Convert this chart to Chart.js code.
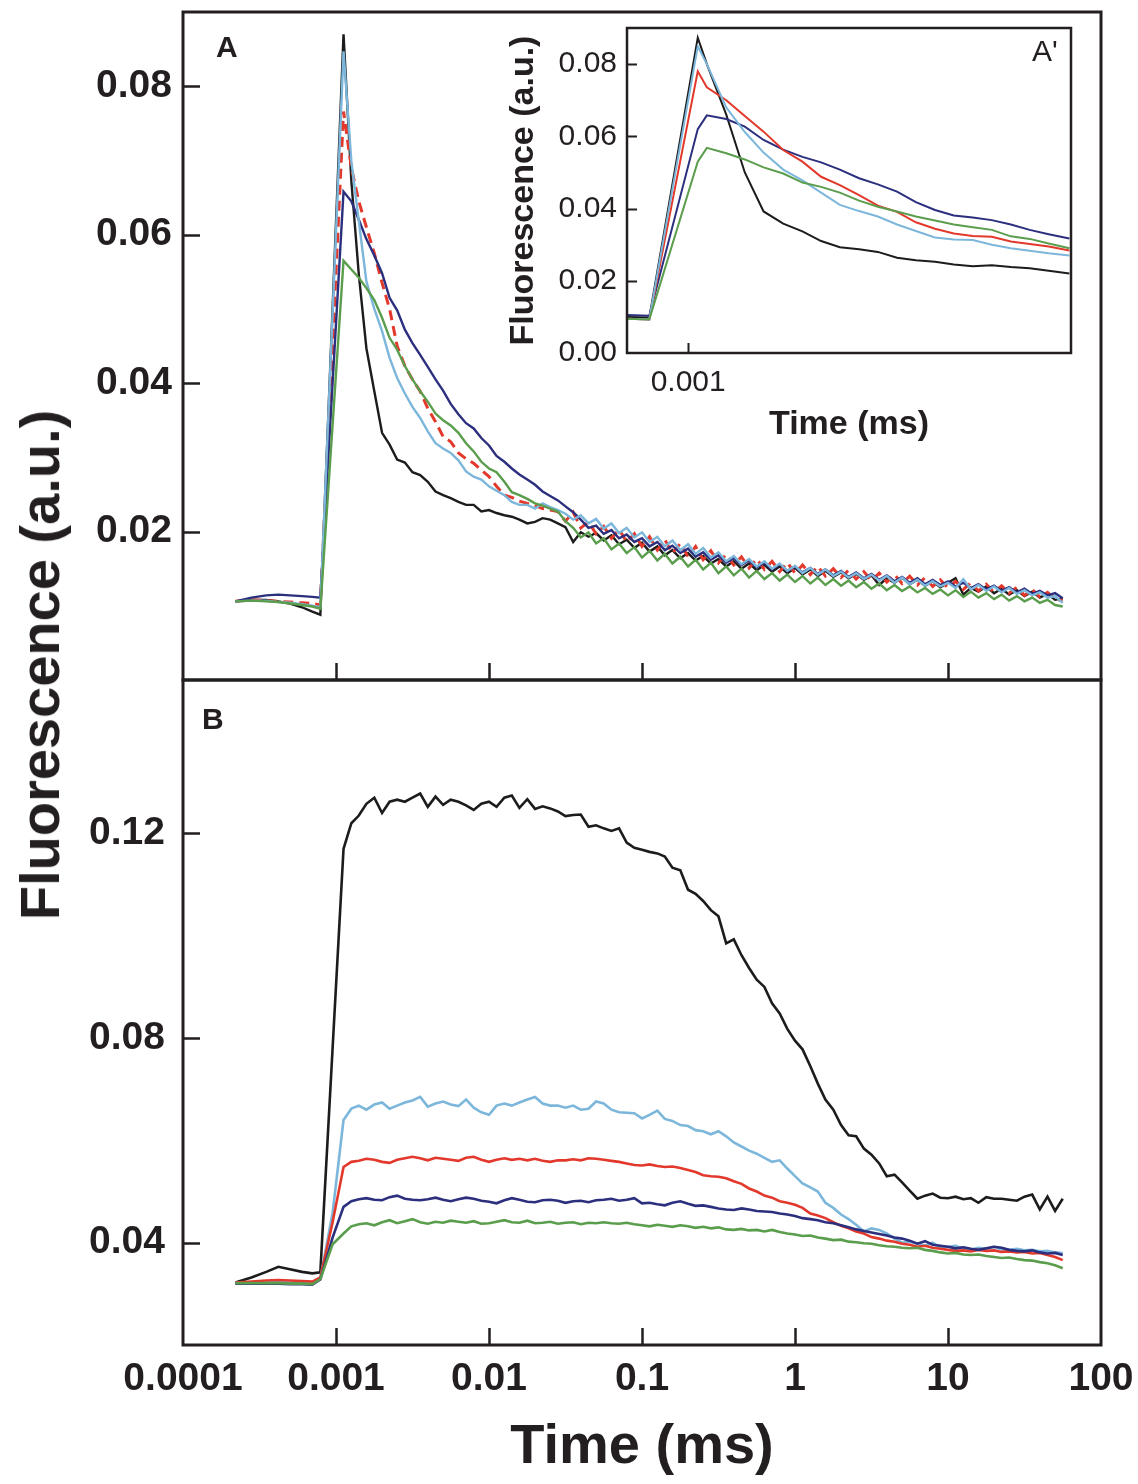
<!DOCTYPE html>
<html>
<head>
<meta charset="utf-8">
<script src="https://cdn.jsdelivr.net/npm/chart.js@4.4.1/dist/chart.umd.min.js"></script>
<style>
  html, body { margin:0; padding:0; background:#ffffff; }
  body { width:1138px; height:1484px; position:relative; overflow:hidden; }
  canvas { position:absolute; }
  .lbl { position:absolute; font-family:"Liberation Sans", Arial, sans-serif; color:#231f20; line-height:1; white-space:nowrap; }
  #ytitle { position:absolute; left:40px; top:665px; transform:translate(-50%,-50%) rotate(-90deg);
            font:bold 56px "Liberation Sans", Arial, sans-serif; color:#231f20; white-space:nowrap; line-height:1; }
</style>
</head>
<body>
<canvas id="cA" width="1138" height="700" style="left:0;top:0;width:1138px;height:700px"></canvas>
<canvas id="cB" width="1138" height="814" style="left:0;top:670px;width:1138px;height:814px"></canvas>
<canvas id="cI" width="600" height="440" style="left:500px;top:20px;width:600px;height:440px"></canvas>
<div class="lbl" style="left:216px;top:32px;font-size:30px;font-weight:bold">A</div>
<div class="lbl" style="left:202px;top:704px;font-size:30px;font-weight:bold">B</div>
<div class="lbl" style="left:1032px;top:36px;font-size:30px;">A'</div>
<div id="ytitle">Fluorescence (a.u.)</div>
<script>
// ---------------- DATA ----------------
// time points (ms) shared by panels A and B
const times = [
  0.00022, 0.00028, 0.00035, 0.00042, 0.0005, 0.0006, 0.0007, 0.00079,
  0.00095, 0.00112,
  0.00126, 0.00141, 0.00158, 0.00178, 0.002, 0.00224, 0.00251, 0.00282, 0.00316, 0.00355, 0.00398, 0.00447, 0.00501, 0.00562, 0.00631, 0.00708, 0.00794, 0.00891,
  0.01, 0.0112, 0.0126, 0.0141, 0.0158, 0.0178, 0.02, 0.0224, 0.0251, 0.0282, 0.0316, 0.0355, 0.0398, 0.0447, 0.0501, 0.0562, 0.0631, 0.0708, 0.0794, 0.0891,
  0.1, 0.112, 0.126, 0.141, 0.158, 0.178, 0.2, 0.224, 0.251, 0.282, 0.316, 0.355, 0.398, 0.447, 0.501, 0.562, 0.631, 0.708, 0.794, 0.891,
  1, 1.12, 1.26, 1.41, 1.58, 1.78, 2, 2.24, 2.51, 2.82, 3.16, 3.55, 3.98, 4.47, 5.01, 5.62, 6.31, 7.08, 7.94, 8.91,
  10, 11.2, 12.6, 14.1, 15.8, 17.8, 20, 22.4, 25.1, 28.2, 31.6, 35.5, 39.8, 44.7, 50.1, 56.2
];

// Panel A
const aBlack = [
  0.0106, 0.0108, 0.0108, 0.0106, 0.0103, 0.0098, 0.0092, 0.0088,
  null, 0.087,
  0.0672, 0.0546, 0.0447, 0.0389, 0.0333, 0.0317, 0.0297, 0.0293, 0.0280, 0.0276, 0.0267, 0.0254, 0.0249, 0.0245, 0.0240, 0.0236, 0.0236, 0.0227,
  0.0229, 0.0225, 0.0222, 0.0220, 0.0216, 0.0211, 0.0213, 0.0218, 0.0216, 0.0211,
  0.0206, 0.0186, 0.0199, 0.0193, 0.0198, 0.0188, 0.0195, 0.0183, 0.0189, 0.0178,
  0.0185, 0.0173, 0.0180, 0.0168, 0.0175, 0.0164, 0.0171, 0.0161, 0.0167, 0.0157,
  0.0163, 0.0153, 0.0160, 0.0150, 0.0157, 0.0148, 0.0155, 0.0146, 0.0153, 0.0144,
  0.0151, 0.0142, 0.0149, 0.0140, 0.0147, 0.0139, 0.0145, 0.0137, 0.0143, 0.0135,
  0.0141, 0.0128, 0.0137, 0.0131, 0.0138, 0.0129, 0.0135, 0.0127, 0.0133, 0.0125,
  0.0131, 0.0137, 0.0115, 0.0124, 0.0119, 0.0126, 0.0117, 0.0123, 0.0115, 0.0121,
  0.0113, 0.0119, 0.0111, 0.0116, 0.0108, 0.0110
];
const aNavy = [
  0.0106, 0.0111, 0.0114, 0.0115, 0.0114, 0.0113, 0.0112, 0.0111,
  null, 0.0658,
  0.0645, 0.0620, 0.0594, 0.0572, 0.0548, 0.0515, 0.0498, 0.0472, 0.0454, 0.0438, 0.0422, 0.0405, 0.0390, 0.0372, 0.0358, 0.0346, 0.0339, 0.0326,
  0.0316, 0.0302, 0.0294, 0.0285, 0.0277, 0.0270, 0.0263, 0.0254, 0.0248, 0.0242,
  0.0234, 0.0226, 0.0216, 0.0205, 0.0208, 0.0197, 0.0202, 0.0191, 0.0196, 0.0186,
  0.0191, 0.0180, 0.0186, 0.0175, 0.0181, 0.0171, 0.0177, 0.0166, 0.0172, 0.0162,
  0.0168, 0.0158, 0.0164, 0.0155, 0.0161, 0.0152, 0.0158, 0.0149, 0.0156, 0.0147,
  0.0153, 0.0145, 0.0151, 0.0143, 0.0149, 0.0141, 0.0147, 0.0139, 0.0145, 0.0137,
  0.0143, 0.0135, 0.0141, 0.0133, 0.0139, 0.0131, 0.0137, 0.0129, 0.0135, 0.0128,
  0.0133, 0.0126, 0.0131, 0.0124, 0.0129, 0.0122, 0.0127, 0.0120, 0.0125, 0.0118,
  0.0123, 0.0116, 0.0120, 0.0114, 0.0117, 0.0110
];
const aRed = [
  0.0106, 0.0108, 0.0107, 0.0106, 0.0105, 0.0104, 0.0103, 0.0101,
  null, 0.0766,
  0.0690, 0.0645, 0.0610, 0.0575, 0.0535, 0.0500, 0.0450, 0.0423, 0.0405, 0.0389, 0.0366, 0.0348, 0.0328, 0.0321, 0.0306, 0.0298, 0.0292, 0.0283,
  0.0274, 0.0261, 0.0249, 0.0246, 0.0241, 0.0238, 0.0235, 0.0231, 0.0229, 0.0227,
  0.0214, 0.0226, 0.0205, 0.0213, 0.0197, 0.0207, 0.0191, 0.0203, 0.0186, 0.0197,
  0.0180, 0.0193, 0.0175, 0.0189, 0.0171, 0.0184, 0.0166, 0.0180, 0.0162, 0.0174,
  0.0158, 0.0169, 0.0155, 0.0166, 0.0151, 0.0163, 0.0149, 0.0160, 0.0146, 0.0158,
  0.0144, 0.0155, 0.0142, 0.0153, 0.0140, 0.0150, 0.0138, 0.0148, 0.0136, 0.0146,
  0.0134, 0.0144, 0.0132, 0.0142, 0.0130, 0.0140, 0.0128, 0.0138, 0.0126, 0.0135,
  0.0124, 0.0133, 0.0122, 0.0131, 0.0120, 0.0129, 0.0118, 0.0127, 0.0117, 0.0125,
  0.0114, 0.0122, 0.0112, 0.0118, 0.0109, 0.0107
];
const aLightBlue = [
  0.0106, 0.0107, 0.0107, 0.0105, 0.0104, 0.0102, 0.0100, 0.0098,
  null, 0.0847,
  0.0699, 0.0618, 0.0537, 0.0500, 0.0470, 0.0434, 0.0407, 0.0386, 0.0368, 0.0353, 0.0335, 0.0319, 0.0312, 0.0306, 0.0296, 0.0281, 0.0274, 0.0270,
  0.0261, 0.0255, 0.0249, 0.0240, 0.0236, 0.0236, 0.0231, 0.0238, 0.0233, 0.0229,
  0.0224, 0.0216, 0.0222, 0.0211, 0.0217, 0.0204, 0.0211, 0.0198, 0.0205, 0.0192,
  0.0199, 0.0186, 0.0193, 0.0180, 0.0188, 0.0175, 0.0183, 0.0170, 0.0178, 0.0165,
  0.0172, 0.0160, 0.0167, 0.0156, 0.0163, 0.0153, 0.0160, 0.0150, 0.0157, 0.0147,
  0.0154, 0.0144, 0.0151, 0.0142, 0.0149, 0.0140, 0.0146, 0.0138, 0.0144, 0.0136,
  0.0142, 0.0134, 0.0140, 0.0131, 0.0138, 0.0129, 0.0135, 0.0127, 0.0133, 0.0126,
  0.0131, 0.0124, 0.0136, 0.0122, 0.0128, 0.0120, 0.0126, 0.0118, 0.0124, 0.0116,
  0.0121, 0.0114, 0.0118, 0.0111, 0.0113, 0.0104
];
const aGreen = [
  0.0106, 0.0107, 0.0106, 0.0105, 0.0103, 0.0101, 0.0099, 0.0096,
  null, 0.0565,
  0.0553, 0.0542, 0.0528, 0.0512, 0.0488, 0.0461, 0.0445, 0.0423, 0.0405, 0.0389, 0.0375, 0.0359, 0.0350, 0.0343, 0.0333, 0.0319, 0.0308, 0.0294,
  0.0285, 0.0280, 0.0267, 0.0253, 0.0249, 0.0244, 0.0238, 0.0235, 0.0231, 0.0227,
  0.0214, 0.0205, 0.0192, 0.0199, 0.0184, 0.0191, 0.0176, 0.0184, 0.0171, 0.0179,
  0.0165, 0.0174, 0.0161, 0.0170, 0.0157, 0.0166, 0.0153, 0.0162, 0.0149, 0.0158,
  0.0144, 0.0153, 0.0141, 0.0150, 0.0138, 0.0147, 0.0136, 0.0144, 0.0134, 0.0142,
  0.0132, 0.0140, 0.0130, 0.0138, 0.0128, 0.0136, 0.0127, 0.0134, 0.0125, 0.0132,
  0.0123, 0.0130, 0.0121, 0.0128, 0.0120, 0.0126, 0.0118, 0.0124, 0.0116, 0.0122,
  0.0114, 0.0121, 0.0112, 0.0119, 0.0111, 0.0117, 0.0109, 0.0115, 0.0107, 0.0113,
  0.0106, 0.0111, 0.0104, 0.0108, 0.0101, 0.0099
];

// Panel B
const bBlack = [
  0.0322, 0.0332, 0.0343, 0.0353, 0.0348, 0.0343, 0.0340, 0.0342,
  0.078, 0.117,
  0.1220, 0.1235, 0.1258, 0.1270, 0.1240, 0.1262, 0.1266, 0.1262, 0.1270, 0.1278, 0.1252, 0.1272, 0.1256, 0.1266, 0.1262, 0.1255, 0.1246, 0.1258,
  0.1262, 0.1252, 0.1270, 0.1274, 0.1250, 0.1267, 0.1248, 0.1253, 0.1249, 0.1243, 0.1234, 0.1236, 0.1237, 0.1213, 0.1216, 0.1210, 0.1205, 0.1210, 0.1182, 0.1172,
  0.1168, 0.1164, 0.1161, 0.1155, 0.1133, 0.1128, 0.1090, 0.1082, 0.1068, 0.1050, 0.1038, 0.0985, 0.0993, 0.0962, 0.0937, 0.0914, 0.0900, 0.0868, 0.0848, 0.0818,
  0.0795, 0.0778, 0.0745, 0.0711, 0.0680, 0.0660, 0.0630, 0.0610, 0.0608, 0.0584, 0.0572, 0.0555, 0.0530, 0.0533, 0.0518, 0.0502, 0.0486, 0.0492, 0.0496, 0.0488,
  0.0487, 0.0490, 0.0485, 0.0487, 0.0478, 0.0489, 0.0486, 0.0486, 0.0484, 0.0482, 0.0490, 0.0494, 0.0465, 0.0490, 0.0462, 0.0486
];
const bLightBlue = [
  0.0322, 0.0322, 0.0322, 0.0323, 0.0322, 0.0321, 0.0320, 0.0330,
  0.0458, 0.0640,
  0.0662, 0.0668, 0.0660, 0.0670, 0.0674, 0.0662, 0.0668, 0.0674, 0.0678, 0.0685, 0.0666, 0.0672, 0.0676, 0.0670, 0.0667, 0.0680, 0.0664, 0.0655,
  0.0650, 0.0668, 0.0672, 0.0668, 0.0674, 0.0680, 0.0685, 0.0672, 0.0668, 0.0668, 0.0664, 0.0668, 0.0660, 0.0662, 0.0676, 0.0672, 0.0660, 0.0655, 0.0654, 0.0653,
  0.0643, 0.0650, 0.0658, 0.0642, 0.0638, 0.0630, 0.0628, 0.0620, 0.0618, 0.0612, 0.0618, 0.0608, 0.0596, 0.0588, 0.0580, 0.0574, 0.0566, 0.0558, 0.0561, 0.0545,
  0.0530, 0.0516, 0.0508, 0.0500, 0.0478, 0.0468, 0.0455, 0.0446, 0.0435, 0.0422, 0.0428, 0.0425, 0.0418, 0.0408, 0.0400, 0.0402, 0.0398, 0.0394, 0.0400, 0.0391,
  0.0392, 0.0394, 0.0388, 0.0386, 0.0390, 0.0388, 0.0392, 0.0387, 0.0386, 0.0388, 0.0385, 0.0386, 0.0383, 0.0384, 0.0381, 0.0380
];
const bRed = [
  0.0322, 0.0324, 0.0326, 0.0327, 0.0326, 0.0325, 0.0324, 0.0332,
  0.0440, 0.0548,
  0.0558, 0.0560, 0.0564, 0.0562, 0.0558, 0.0556, 0.0562, 0.0565, 0.0568, 0.0565, 0.0561, 0.0566, 0.0564, 0.0562, 0.0560, 0.0566, 0.0568, 0.0562,
  0.0558, 0.0562, 0.0565, 0.0562, 0.0564, 0.0561, 0.0564, 0.0560, 0.0558, 0.0561, 0.0561, 0.0563, 0.0561, 0.0565, 0.0564, 0.0562, 0.0560, 0.0558, 0.0555, 0.0552,
  0.0551, 0.0553, 0.0550, 0.0548, 0.0549, 0.0546, 0.0542, 0.0538, 0.0532, 0.0530, 0.0529, 0.0526, 0.0520, 0.0515, 0.0506, 0.0500, 0.0492, 0.0488, 0.0481, 0.0478,
  0.0474, 0.0468, 0.0457, 0.0453, 0.0448, 0.0440, 0.0433, 0.0428, 0.0422, 0.0418, 0.0411, 0.0408, 0.0404, 0.0402, 0.0398, 0.0396, 0.0392, 0.0394, 0.0390, 0.0388,
  0.0386, 0.0384, 0.0385, 0.0383, 0.0386, 0.0384, 0.0385, 0.0382, 0.0383, 0.0381, 0.0382, 0.0379, 0.0380, 0.0376, 0.0372, 0.0366
];
const bNavy = [
  0.0320, 0.0320, 0.0320, 0.0320, 0.0319, 0.0319, 0.0318, 0.0328,
  0.0410, 0.0470,
  0.0481, 0.0485, 0.0487, 0.0484, 0.0483, 0.0489, 0.0492, 0.0486, 0.0484, 0.0483, 0.0485, 0.0488, 0.0484, 0.0481, 0.0485, 0.0488, 0.0486, 0.0482,
  0.0480, 0.0477, 0.0483, 0.0487, 0.0484, 0.0480, 0.0479, 0.0483, 0.0484, 0.0482, 0.0478, 0.0481, 0.0482, 0.0479, 0.0483, 0.0484, 0.0486, 0.0482, 0.0484, 0.0487,
  0.0477, 0.0478, 0.0475, 0.0473, 0.0478, 0.0481, 0.0476, 0.0472, 0.0473, 0.0470, 0.0467, 0.0465, 0.0464, 0.0467, 0.0465, 0.0462, 0.0461, 0.0460, 0.0457, 0.0455,
  0.0452, 0.0448, 0.0446, 0.0444, 0.0440, 0.0438, 0.0434, 0.0430, 0.0426, 0.0423, 0.0420, 0.0417, 0.0414, 0.0410, 0.0408, 0.0404, 0.0398, 0.0403, 0.0396, 0.0394,
  0.0392, 0.0389, 0.0391, 0.0388, 0.0386, 0.0389, 0.0392, 0.0390, 0.0386, 0.0384, 0.0383, 0.0385, 0.0381, 0.0379, 0.0380, 0.0376
];
const bGreen = [
  0.0321, 0.0321, 0.0321, 0.0321, 0.0320, 0.0320, 0.0319, 0.0329,
  0.0397, 0.0418,
  0.0432, 0.0436, 0.0438, 0.0434, 0.0440, 0.0444, 0.0438, 0.0442, 0.0446, 0.0440, 0.0437, 0.0441, 0.0439, 0.0443, 0.0441, 0.0439, 0.0442, 0.0437,
  0.0438, 0.0441, 0.0444, 0.0440, 0.0439, 0.0443, 0.0438, 0.0439, 0.0441, 0.0437, 0.0439, 0.0440, 0.0436, 0.0439, 0.0438, 0.0440, 0.0438, 0.0437, 0.0439, 0.0436,
  0.0434, 0.0432, 0.0435, 0.0433, 0.0431, 0.0434, 0.0432, 0.0429, 0.0431, 0.0428, 0.0430, 0.0426, 0.0425, 0.0427, 0.0424, 0.0425, 0.0422, 0.0425, 0.0421, 0.0418,
  0.0416, 0.0413, 0.0414, 0.0410, 0.0408, 0.0405, 0.0406, 0.0402, 0.0401, 0.0399, 0.0398, 0.0395, 0.0393, 0.0392, 0.0390, 0.0389, 0.0390, 0.0386, 0.0384, 0.0381,
  0.0379, 0.0380, 0.0377, 0.0376, 0.0377, 0.0374, 0.0372, 0.0370, 0.0371, 0.0368, 0.0366, 0.0365, 0.0362, 0.0360, 0.0356, 0.0350
];

// Inset A'
const insetTimes = [0.00069, 0.00079, 0.00106, 0.00112, 0.00126, 0.00141, 0.00158, 0.00178, 0.002, 0.00224, 0.00251, 0.00282, 0.00316, 0.00355, 0.00398, 0.00447, 0.00501, 0.00562, 0.00631, 0.00708, 0.00794, 0.00891, 0.0101];
const iBlack     = [0.0100, 0.0098, 0.0873, 0.0800, 0.0660, 0.0500, 0.0392, 0.0358, 0.0337, 0.0310, 0.0293, 0.0287, 0.0280, 0.0264, 0.0257, 0.0253, 0.0245, 0.0240, 0.0243, 0.0238, 0.0235, 0.0228, 0.0220];
const iLightBlue = [0.0095, 0.0093, 0.0849, 0.0800, 0.0680, 0.0612, 0.0555, 0.0508, 0.0478, 0.0444, 0.0410, 0.0393, 0.0378, 0.0356, 0.0338, 0.0320, 0.0314, 0.0313, 0.0300, 0.0290, 0.0283, 0.0276, 0.0270];
const iRed       = [0.0095, 0.0093, 0.0780, 0.0736, 0.0700, 0.0656, 0.0613, 0.0562, 0.0530, 0.0488, 0.0465, 0.0437, 0.0408, 0.0391, 0.0362, 0.0344, 0.0331, 0.0324, 0.0322, 0.0309, 0.0302, 0.0295, 0.0284];
const iNavy      = [0.0105, 0.0103, 0.0620, 0.0658, 0.0648, 0.0627, 0.0590, 0.0563, 0.0543, 0.0528, 0.0508, 0.0484, 0.0467, 0.0447, 0.0418, 0.0396, 0.0381, 0.0375, 0.0368, 0.0356, 0.0341, 0.0329, 0.0317];
const iGreen     = [0.0095, 0.0093, 0.0530, 0.0568, 0.0553, 0.0536, 0.0514, 0.0497, 0.0472, 0.0460, 0.0444, 0.0422, 0.0405, 0.0392, 0.0378, 0.0367, 0.0356, 0.0348, 0.0341, 0.0323, 0.0316, 0.0303, 0.0290];

// Ticks
const xTickValues = [0.0001, 0.001, 0.01, 0.1, 1, 10, 100];
const xTickLabels = ['0.0001', '0.001', '0.01', '0.1', '1', '10', '100'];
const aYTicks = [0.02, 0.04, 0.06, 0.08];
const bYTicks = [0.04, 0.08, 0.12];
const insetXTicks = [0.001];
const insetXLabels = ['0.001'];
const insetYTicks = [0, 0.02, 0.04, 0.06, 0.08];

// ---------------- STYLE ----------------
const FONT = '"Liberation Sans", Arial, Helvetica, sans-serif';
const INK = '#231f20';
const COL = { black:'#1c1c1c', navy:'#2b2f7e', red:'#e2392c', light:'#7cb7db', green:'#5a9d4c' };

const framePlugin = {
  id: 'frame',
  afterDraw(chart, args, o) {
    const { ctx, chartArea: a, scales } = chart;
    ctx.save();
    ctx.strokeStyle = o.color;
    ctx.lineCap = 'butt';
    ctx.lineWidth = o.tickWidth;
    ctx.beginPath();
    (o.xTicks || []).forEach(v => {
      const x = Math.round(scales.x.getPixelForValue(v)) + 0.5;
      ctx.moveTo(x, a.bottom); ctx.lineTo(x, a.bottom - o.len);
    });
    (o.yTicks || []).forEach(v => {
      const y = Math.round(scales.y.getPixelForValue(v)) + 0.5;
      ctx.moveTo(a.left, y); ctx.lineTo(a.left + o.len, y);
    });
    ctx.stroke();
    ctx.lineWidth = o.width;
    ctx.strokeRect(a.left, a.top, a.right - a.left, a.bottom - a.top);
    ctx.restore();
  }
};

// remove the automatic label-overhang padding so the plot frame sits exactly where the layout padding puts it
function noPad(s) { s.paddingTop = 0; s.paddingBottom = 0; s.paddingLeft = 0; s.paddingRight = 0; }

function pts(ts, vs) { return ts.map((t, i) => ({ x: t, y: vs[i] })); }
function ds(ts, vs, color, width, dash) {
  return { data: pts(ts, vs), borderColor: color, borderWidth: width, borderDash: dash || [],
           pointRadius: 0, tension: 0, fill: false, spanGaps: true };
}
const baseOpts = {
  responsive: false, animation: false, devicePixelRatio: 1,
  events: [],
  plugins: { legend: { display: false }, tooltip: { enabled: false } }
};

// ---------------- PANEL A ----------------
new Chart(document.getElementById('cA'), {
  type: 'line',
  data: { datasets: [
    ds(times, aGreen, COL.green, 2.4),
    ds(times, aLightBlue, COL.light, 2.4),
    ds(times, aNavy, COL.navy, 2.4),
    ds(times, aRed, COL.red, 3, [10, 6]),
    ds(times, aBlack, COL.black, 2.4)
  ] },
  options: Object.assign({}, baseOpts, {
    layout: { padding: { left: 0, top: 12, right: 37, bottom: 20 } },
    plugins: Object.assign({}, baseOpts.plugins, {
      frame: { xTicks: xTickValues.slice(1, 6), yTicks: aYTicks, len: 17, width: 3, tickWidth: 2.5, color: INK }
    }),
    scales: {
      x: { type: 'logarithmic', min: 0.0001, max: 100, grid: { display: false }, border: { display: false },
           ticks: { display: false }, afterFit: s => { s.height = 0; noPad(s); } },
      y: { type: 'linear', min: 0, max: 0.09, grid: { display: false }, border: { display: false },
           afterBuildTicks: s => { s.ticks = aYTicks.map(v => ({ value: v })); },
           ticks: { callback: v => Number(v).toFixed(2), font: { family: FONT, size: 39, weight: 'bold' }, color: INK, padding: 3 },
           afterFit: s => { s.width = 183; noPad(s); } }
    }
  }),
  plugins: [framePlugin]
});

// ---------------- PANEL B ----------------
new Chart(document.getElementById('cB'), {
  type: 'line',
  data: { datasets: [
    ds(times, bGreen, COL.green, 2.6),
    ds(times, bNavy, COL.navy, 2.6),
    ds(times, bRed, COL.red, 2.6),
    ds(times, bLightBlue, COL.light, 2.6),
    ds(times, bBlack, COL.black, 2.6)
  ] },
  options: Object.assign({}, baseOpts, {
    layout: { padding: { left: 0, top: 10, right: 37, bottom: 0 } },
    plugins: Object.assign({}, baseOpts.plugins, {
      frame: { xTicks: xTickValues.slice(1, 6), yTicks: bYTicks, len: 17, width: 3, tickWidth: 2.5, color: INK }
    }),
    scales: {
      x: { type: 'logarithmic', min: 0.0001, max: 100, grid: { display: false }, border: { display: false },
           afterBuildTicks: s => { s.ticks = xTickValues.map(v => ({ value: v })); },
           ticks: { autoSkip: false, maxRotation: 0, minRotation: 0,
                    callback: (v, i) => xTickLabels[i],
                    font: { family: FONT, size: 39, weight: 'bold' }, color: INK, padding: 3 },
           title: { display: true, text: 'Time (ms)', font: { family: FONT, size: 56, weight: 'bold' }, color: INK,
                    padding: { top: 0, bottom: 3 } },
           afterFit: s => { s.height = 139; noPad(s); } },
      y: { type: 'linear', min: 0.02, max: 0.15, grid: { display: false }, border: { display: false },
           afterBuildTicks: s => { s.ticks = bYTicks.map(v => ({ value: v })); },
           ticks: { callback: v => Number(v).toFixed(2), font: { family: FONT, size: 39, weight: 'bold' }, color: INK, padding: 10 },
           afterFit: s => { s.width = 183; noPad(s); } }
    }
  }),
  plugins: [framePlugin]
});

// ---------------- INSET A' ----------------
new Chart(document.getElementById('cI'), {
  type: 'line',
  data: { datasets: [
    ds(insetTimes, iGreen, COL.green, 2),
    ds(insetTimes, iLightBlue, COL.light, 2),
    ds(insetTimes, iRed, COL.red, 2),
    ds(insetTimes, iNavy, COL.navy, 2),
    ds(insetTimes, iBlack, COL.black, 2)
  ] },
  options: Object.assign({}, baseOpts, {
    layout: { padding: { left: 0, top: 8, right: 29, bottom: 0 } },
    plugins: Object.assign({}, baseOpts.plugins, {
      frame: { xTicks: insetXTicks, yTicks: insetYTicks.slice(1), len: 10, width: 2.5, tickWidth: 2, color: INK }
    }),
    scales: {
      x: { type: 'logarithmic', min: 0.00069, max: 0.0102, grid: { display: false }, border: { display: false },
           afterBuildTicks: s => { s.ticks = insetXTicks.map(v => ({ value: v })); },
           ticks: { autoSkip: false, maxRotation: 0, callback: (v, i) => insetXLabels[i],
                    font: { family: FONT, size: 30 }, color: INK, padding: 4 },
           title: { display: true, text: 'Time (ms)', font: { family: FONT, size: 34, weight: 'bold' }, color: INK,
                    padding: { top: 0, bottom: 15 } },
           afterFit: s => { s.height = 107; noPad(s); } },
      y: { type: 'linear', min: 0, max: 0.09, grid: { display: false }, border: { display: false },
           afterBuildTicks: s => { s.ticks = insetYTicks.map(v => ({ value: v })); },
           ticks: { callback: v => Number(v).toFixed(2), font: { family: FONT, size: 30 }, color: INK, padding: 2 },
           title: { display: true, text: 'Fluorescence (a.u.)', font: { family: FONT, size: 34, weight: 'bold' }, color: INK,
                    padding: { top: 3, bottom: 0 } },
           afterFit: s => { s.width = 127; noPad(s); } }
    }
  }),
  plugins: [framePlugin]
});
</script>
</body>
</html>
